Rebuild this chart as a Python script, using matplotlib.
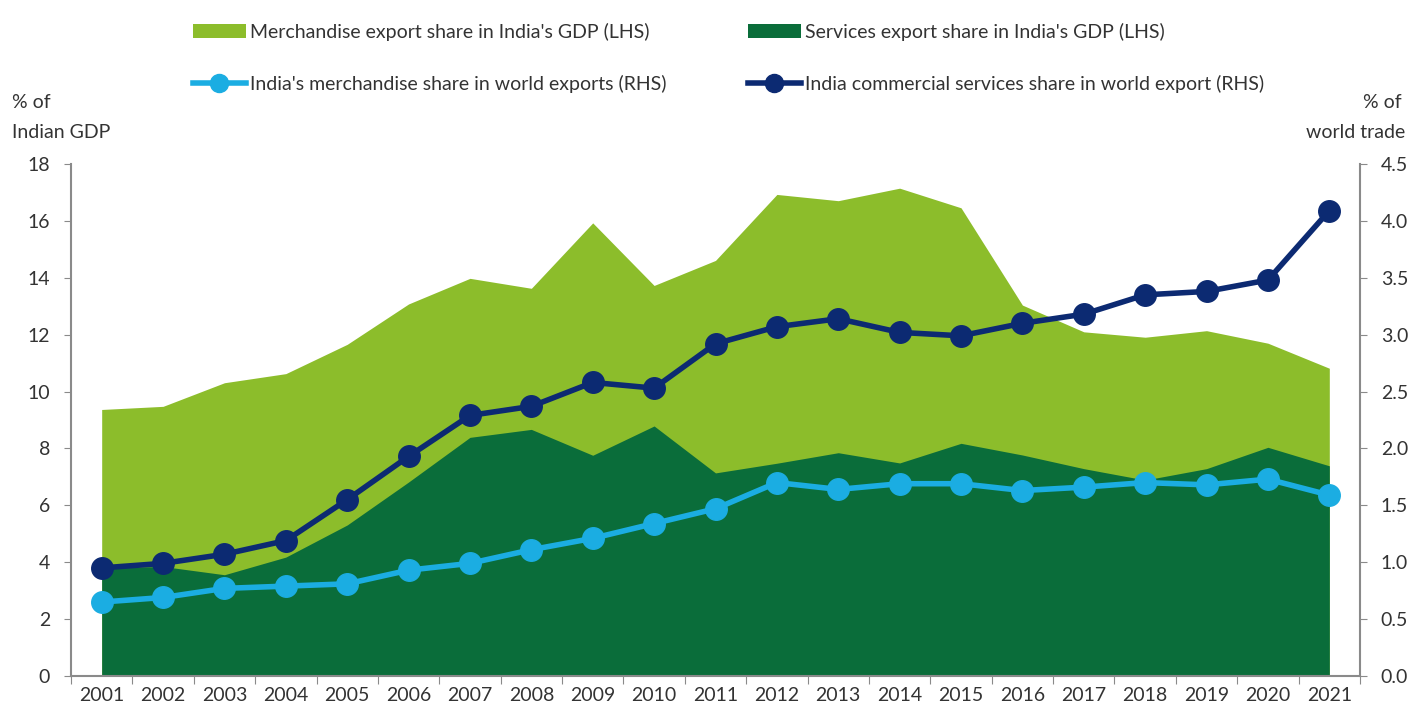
import matplotlib
matplotlib.use("Agg")
import matplotlib.pyplot as plt
from matplotlib.patches import Patch
from matplotlib.lines import Line2D

years = ["2001", "2002", "2003", "2004", "2005", "2006", "2007", "2008", "2009", "2010", "2011",
         "2012", "2013", "2014", "2015", "2016", "2017", "2018", "2019", "2020", "2021"]
merch_gdp = [9.37, 9.48, 10.31, 10.63, 11.66, 13.08, 13.98, 13.63, 15.93, 13.73, 14.61,
             16.93, 16.71, 17.15, 16.46, 13.04, 12.10, 11.91, 12.14, 11.70, 10.82]
serv_gdp = [3.80, 3.85, 3.56, 4.18, 5.31, 6.82, 8.39, 8.67, 7.76, 8.79, 7.14,
            7.48, 7.85, 7.49, 8.18, 7.77, 7.29, 6.89, 7.29, 8.04, 7.39]
merch_world = [0.65, 0.69, 0.77, 0.79, 0.81, 0.93, 0.99, 1.11, 1.21, 1.34, 1.47,
               1.70, 1.64, 1.69, 1.69, 1.63, 1.66, 1.70, 1.68, 1.73, 1.59]
serv_world = [0.95, 0.99, 1.07, 1.19, 1.55, 1.93, 2.29, 2.37, 2.58, 2.53, 2.92,
              3.07, 3.14, 3.02, 2.99, 3.10, 3.18, 3.35, 3.38, 3.48, 4.09]

left_ticks = [0, 2, 4, 6, 8, 10, 12, 14, 16, 18]
right_ticks = [0.0, 0.5, 1.0, 1.5, 2.0, 2.5, 3.0, 3.5, 4.0, 4.5]

C_MERCH = "#8cbd2b"
C_SERV = "#0a6d3a"
C_LB = "#1bade2"
C_NAVY = "#0c2a72"
C_AX = "#8a8a8a"
C_TXT = "#333333"

plt.rcParams['font.family'] = ['Lato', 'DejaVu Sans']

fig = plt.figure(figsize=(14.1, 7.18), dpi=100)
ax = fig.add_axes([71/1410, 42/718, 1289/1410, 512/718])
ax2 = ax.twinx()

x = list(range(len(years)))
ax.fill_between(x, 0, merch_gdp, color=C_MERCH, linewidth=0, zorder=1)
ax.fill_between(x, 0, serv_gdp, color=C_SERV, linewidth=0, zorder=2)

ax2.plot(x, merch_world, color=C_LB, lw=4, marker='o', ms=15.5, zorder=3)
ax2.plot(x, serv_world, color=C_NAVY, lw=4, marker='o', ms=15.5, zorder=4)

ax.set_xlim(-0.5, len(years) - 0.5)
ax.set_ylim(0, 18)
ax2.set_ylim(0, 4.5)

ax.set_xticks([i - 0.5 for i in range(len(years) + 1)])
ax.set_xticklabels([])
ax.set_xticks(x, minor=True)
ax.set_xticklabels(years, minor=True)
ax.tick_params(axis='x', which='major', length=6, color=C_AX, direction='out')
ax.tick_params(axis='x', which='minor', length=0, labelsize=14, labelcolor=C_TXT, pad=8)

ax.set_yticks(left_ticks)
ax.set_yticklabels([str(v) for v in left_ticks])
ax.tick_params(axis='y', length=5, color=C_AX, labelsize=14, labelcolor=C_TXT, pad=10)
ax2.set_yticks(right_ticks)
ax2.set_yticklabels([f"{v:.1f}" for v in right_ticks])
ax2.tick_params(axis='y', length=5, color=C_AX, labelsize=14, labelcolor=C_TXT, pad=10)

for a in (ax, ax2):
    a.spines['top'].set_visible(False)
    for s in ('left', 'right', 'bottom'):
        a.spines[s].set_color(C_AX)
        a.spines[s].set_linewidth(1.5)
ax2.spines['left'].set_visible(False)
ax.spines['right'].set_visible(False)
ax2.spines['bottom'].set_visible(False)

fig.text(12/1410, 1 - 103/718, "% of", ha='left', va='center', fontsize=14, color=C_TXT)
fig.text(12/1410, 1 - 133/718, "Indian GDP", ha='left', va='center', fontsize=14, color=C_TXT)
fig.text(1402/1410, 1 - 103/718, "% of", ha='right', va='center', fontsize=14, color=C_TXT)
fig.text(1405/1410, 1 - 133/718, "world trade", ha='right', va='center', fontsize=14, color=C_TXT)

leg_kw = dict(loc='upper left', frameon=False, fontsize=14, handlelength=2.7,
              handletextpad=0.25, labelspacing=1.75, labelcolor=C_TXT, borderaxespad=0,
              borderpad=0)
leg1 = fig.legend(
    [Patch(facecolor=C_MERCH, edgecolor='none'),
     Line2D([], [], color=C_LB, lw=4, marker='o', ms=13)],
    ["Merchandise export share in India's GDP (LHS)",
     "India's merchandise share in world exports (RHS)"],
    bbox_to_anchor=(193/1410, 1 - 23/718), **leg_kw)
leg2 = fig.legend(
    [Patch(facecolor=C_SERV, edgecolor='none'),
     Line2D([], [], color=C_NAVY, lw=4, marker='o', ms=13)],
    ["Services export share in India's GDP (LHS)",
     "India commercial services share in world export (RHS)"],
    bbox_to_anchor=(748/1410, 1 - 23/718), **leg_kw)

fig.savefig("out.png", dpi=100)
